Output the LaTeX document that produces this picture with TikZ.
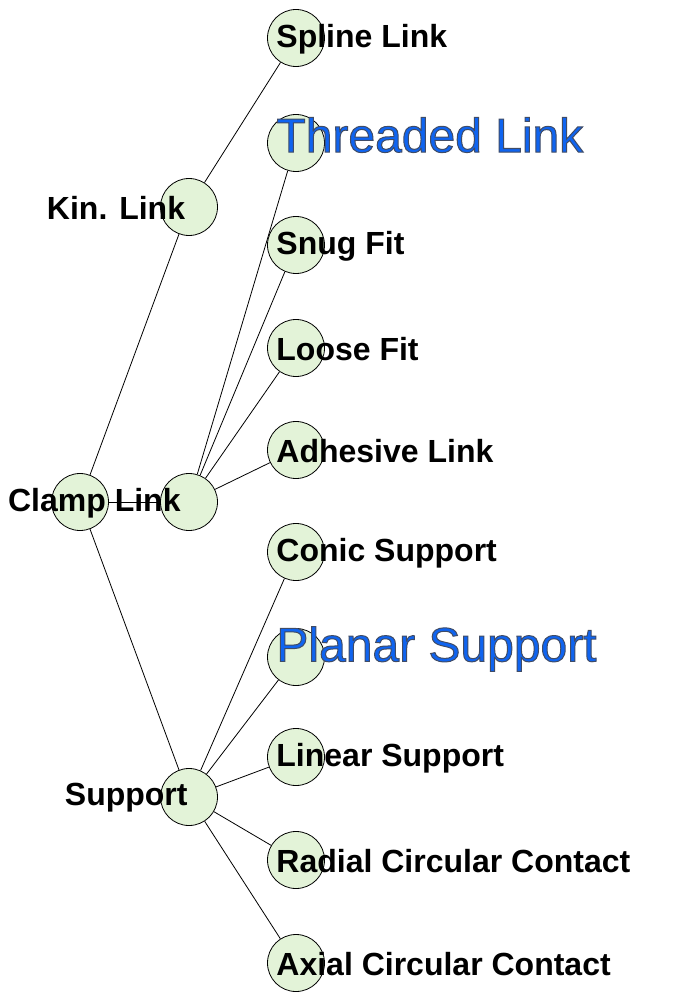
\documentclass[tikz,border=0pt]{standalone}
\usepackage{fontspec}
\setmainfont{Liberation Sans}
\usetikzlibrary{backgrounds}
\definecolor{leaf}{RGB}{227,243,216}
\definecolor{linkblue}{RGB}{15,100,240}
\newcommand{\outlined}[1]{\special{pdf:literal 2 Tr 1 w 0.25 0.3 0.4 RG}#1\special{pdf:literal 0 Tr}}

\begin{document}
\begin{tikzpicture}[x=1pt,y=-1pt,
    every node/.style={font=\fontsize{32}{36}\selectfont\bfseries},
    joint/.style={shape=circle, draw, line width=0.8pt, fill=leaf, minimum size=57pt, inner sep=0pt},
    leftlab/.style={label distance=-28.5pt, yshift=-1pt},
    rightlab/.style={label distance=-52pt, yshift=-1.5pt},
    biglab/.style={label distance=-52pt, yshift=8pt, text=linkblue, font=\fontsize{48}{52}\selectfont},
    edge/.style={line width=0.8pt}]
    \useasboundingbox (0,0) rectangle (700,1000);
    % create the nodes
    \node (root) [joint] at (80,502) {};
    \node (kin) [joint, label={[leftlab]left:Kin. Link}] at (189,207) {};
    \node (clamp) [joint, label={[leftlab, label distance=-24pt]left:Clamp Link}] at (189,502) {};
    \node (supp) [joint, label={[leftlab, label distance=-31pt]left:Support}] at (189,797) {};
    \node (spline) [joint, label={[rightlab]right:Spline Link}] at (296,38) {};
    \node (thread) [joint, label={[biglab]right:\outlined{Threaded Link}}] at (296,143) {};
    \node (snug) [joint, label={[rightlab]right:Snug Fit}] at (296,245) {};
    \node (loose) [joint, label={[rightlab]right:Loose Fit}] at (296,348) {};
    \node (adhes) [joint, label={[rightlab]right:Adhesive Link}] at (296,450) {};
    \node (conic) [joint, label={[rightlab]right:Conic Support}] at (296,552) {};
    \node (planar) [joint, label={[biglab]right:\outlined{Planar Support}}] at (296,657) {};
    \node (linear) [joint, label={[rightlab]right:Linear Support}] at (296,757) {};
    \node (radial) [joint, label={[rightlab]right:Radial Circular Contact}] at (296,860) {};
    \node (axial) [joint, label={[rightlab]right:Axial Circular Contact}] at (296,963) {};
    % connect the nodes
    \begin{scope}[on background layer]
    \draw[edge] (root) -- (kin);
    \draw[edge] (root) -- (clamp);
    \draw[edge] (root) -- (supp);
    \draw[edge] (kin) -- (spline);
    \foreach \n in {thread,snug,loose,adhes}
        \draw[edge] (clamp) -- (\n);
    \foreach \n in {conic,planar,linear,radial,axial}
        \draw[edge] (supp) -- (\n);
    \end{scope}
\end{tikzpicture}
\end{document}
